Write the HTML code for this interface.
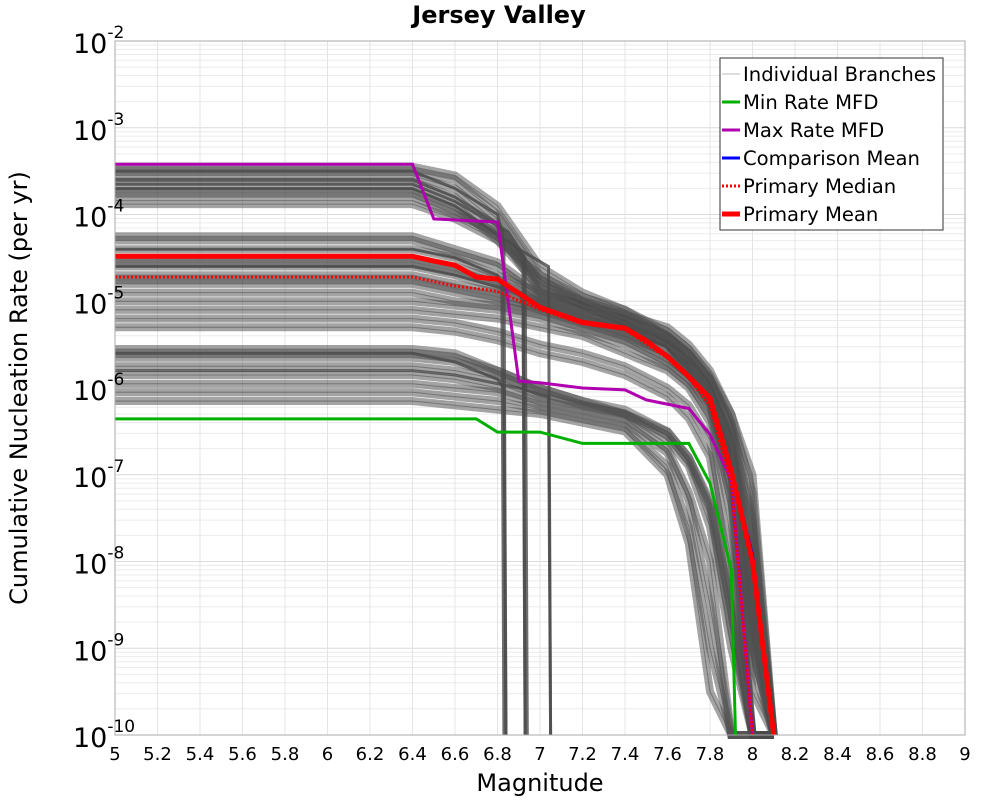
<!DOCTYPE html>
<html><head><meta charset="utf-8"><style>
html,body{margin:0;padding:0;background:#fff;}
svg{display:block;font-family:"DejaVu Sans","Liberation Sans",sans-serif;}
</style></head><body>
<svg id="chart" width="1000" height="800" viewBox="0 0 1000 800" xmlns="http://www.w3.org/2000/svg">
<text x="499" y="23" text-anchor="middle" font-size="24" font-weight="bold">Jersey Valley</text>
<g id="grid"></g>
<g id="branches"></g>
<g id="series"></g>
<rect x="115" y="41" width="850" height="694" fill="none" stroke="#aaa" stroke-width="1"/>
<g id="axes"></g>
<text x="540" y="791" text-anchor="middle" font-size="24">Magnitude</text>
<text transform="translate(27,388) rotate(-90)" text-anchor="middle" font-size="24">Cumulative Nucleation Rate (per yr)</text>
<g id="legend"></g>
</svg>
<script>
const xTicks=[5,5.2,5.4,5.6,5.8,6,6.2,6.4,6.6,6.8,7,7.2,7.4,7.6,7.8,8,8.2,8.4,8.6,8.8,9];
const yExps=[-2,-3,-4,-5,-6,-7,-8,-9,-10];
const grid13=[5,6.4,6.6,6.8,7.0,7.2,7.4,7.6,7.7,7.8,7.9,8.0,8.1];
const branchLogs=[
[-3.45,-3.45,-3.55,-3.9,-4.6,-4.9,-5.1,-5.4,-5.6,-5.9,-6.4,-7.5,-10],
[-3.5,-3.5,-3.6,-4.0,-4.7,-4.95,-5.1,-5.35,-5.55,-5.85,-6.3,-7.2,-10],
[-3.55,-3.55,-3.7,-4.1,-4.8,-5.0,-5.15,-5.4,-5.65,-6.0,-6.6,-8,-10],
[-3.62,-3.62,-3.8,-4.2,-4.75,-5.0,-5.2,-5.45,-5.7,-6.05,-6.7,-8.3,-10],
[-3.7,-3.7,-3.9,-4.3,-4.7,-5.0,-5.2,-5.5,-5.7,-6.1,-6.8,-8.5,-10],
[-3.75,-3.75,-3.95,-4.25,-4.8,-5.05,-5.25,-5.5,-5.75,-6.15,-6.9,-8.7,-10],
[-3.8,-3.8,-4.0,-4.2,-4.9,-5.1,-5.3,-5.5,-5.8,-6.2,-7,-9,-10],
[-3.88,-3.88,-4.05,-4.3,-4.85,-5.05,-5.25,-5.5,-5.75,-6.1,-6.9,-8.8,-10],
[-4.25,-4.25,-4.4,-4.55,-4.9,-5.05,-5.2,-5.4,-5.6,-5.9,-6.45,-7.6,-10],
[-4.3,-4.3,-4.45,-4.6,-4.95,-5.1,-5.2,-5.4,-5.6,-5.9,-6.5,-7.8,-10],
[-4.4,-4.4,-4.5,-4.7,-4.9,-5.05,-5.15,-5.3,-5.5,-5.8,-6.3,-7,-10],
[-4.5,-4.5,-4.6,-4.75,-5.0,-5.15,-5.3,-5.5,-5.7,-6.0,-6.6,-8.2,-10],
[-4.55,-4.55,-4.65,-4.8,-5.0,-5.15,-5.3,-5.5,-5.7,-6.0,-6.65,-8.4,-10],
[-4.6,-4.6,-4.7,-4.85,-5.0,-5.2,-5.3,-5.5,-5.75,-6.05,-6.7,-8.6,-10],
[-4.7,-4.7,-4.8,-4.9,-5.05,-5.2,-5.35,-5.6,-5.8,-6.1,-6.9,-9,-10],
[-4.75,-4.75,-4.85,-4.95,-5.1,-5.25,-5.4,-5.6,-5.8,-6.1,-6.95,-9.2,-10],
[-4.8,-4.8,-4.9,-5.0,-5.1,-5.25,-5.4,-5.65,-5.85,-6.15,-7.0,-9.5,-10],
[-4.9,-4.9,-5.0,-5.05,-5.15,-5.3,-5.45,-5.7,-5.9,-6.2,-7.2,-10,-10],
[-5.0,-5.0,-5.05,-5.1,-5.2,-5.35,-5.5,-5.75,-5.95,-6.3,-7.3,-10,-10],
[-5.1,-5.1,-5.15,-5.2,-5.3,-5.4,-5.6,-5.8,-6.0,-6.4,-7.5,-10,-10],
[-5.2,-5.2,-5.25,-5.35,-5.5,-5.6,-5.75,-6.0,-6.2,-6.6,-8,-10,-10],
[-5.3,-5.3,-5.35,-5.45,-5.6,-5.7,-5.85,-6.1,-6.35,-6.8,-8.4,-10,-10],
[-5.55,-5.55,-5.6,-5.8,-6.0,-6.15,-6.25,-6.5,-6.8,-7.3,-8.5,-10,-10],
[-5.6,-5.6,-5.65,-5.8,-6.0,-6.15,-6.3,-6.5,-6.8,-7.35,-8.6,-10,-10],
[-5.65,-5.65,-5.7,-5.85,-6.05,-6.2,-6.3,-6.55,-6.85,-7.4,-8.8,-10,-10],
[-5.75,-5.75,-5.8,-5.9,-6.1,-6.2,-6.3,-6.6,-6.9,-7.6,-9,-10,-10],
[-5.85,-5.85,-5.9,-6.0,-6.15,-6.25,-6.35,-6.7,-7.2,-8,-10,-10,-10],
[-5.95,-5.95,-6.0,-6.05,-6.2,-6.3,-6.4,-6.75,-7.3,-8.5,-10,-10,-10],
[-6.05,-6.05,-6.1,-6.15,-6.25,-6.35,-6.45,-6.9,-7.6,-9,-10,-10,-10],
[-6.15,-6.15,-6.2,-6.25,-6.3,-6.4,-6.5,-7.0,-7.8,-9.5,-10,-10,-10]
];
const dropMags=[[5,6.4,6.6,6.8,6.83,6.84],[5,6.4,6.6,6.8,6.92,6.93],[5,6.4,6.6,6.9,7.04,7.05],[5,6.4,6.6,6.8,6.83,6.84],[5,6.4,6.6,6.9,6.92,6.93],[5,6.4,6.6,6.9,7.04,7.05],[5,6.4,6.6,6.8,6.82,6.83],[5,6.4,6.6,6.85,6.93,6.94]];
const dropLogs=[[-3.5,-3.5,-3.7,-4.0,-4.3,-10],[-3.6,-3.6,-3.8,-4.1,-4.5,-10],[-3.7,-3.7,-3.9,-4.4,-4.6,-10],[-5.6,-5.6,-5.7,-5.9,-6.0,-10],[-4.6,-4.6,-4.7,-4.9,-5.0,-10],[-5.8,-5.8,-5.85,-6.0,-6.1,-10],[-4.4,-4.4,-4.5,-4.7,-4.8,-10],[-3.65,-3.65,-3.85,-4.2,-4.5,-10]];
const meanMags=[5,6.4,6.5,6.6,6.7,6.8,7.0,7.2,7.4,7.5,7.6,7.7,7.8,7.9,8.0,8.1];
const meanVals=[3.3e-5,3.3e-5,2.9e-5,2.6e-5,1.9e-5,1.8e-5,8.5e-6,5.7e-6,4.9e-6,3.5e-6,2.3e-6,1.35e-6,7.6e-7,1.1e-7,1e-8,1e-10];
const medianMags=[5,6.4,6.6,6.8,7.0,7.2,7.4,7.6,7.7,7.8,7.9,8.0];
const medianVals=[1.9e-5,1.9e-5,1.5e-5,1.3e-5,8e-6,5.5e-6,4.7e-6,2.2e-6,1.3e-6,6.2e-7,8e-8,1e-10];
const compMags=meanMags;
const compVals=[3.3e-5,3.3e-5,2.9e-5,2.6e-5,1.9e-5,1.8e-5,8.5e-6,5.7e-6,4.9e-6,3.5e-6,2.3e-6,1.35e-6,7.6e-7,1.1e-7,1.2e-8,1e-10];
const maxMags=[5,6.4,6.5,6.8,6.9,7.0,7.2,7.4,7.5,7.7,7.8,7.9,8.0];
const maxVals=[3.8e-4,3.8e-4,8.9e-5,8.2e-5,1.2e-6,1.15e-6,1.0e-6,9.5e-7,7.3e-7,5.8e-7,2.9e-7,8.7e-8,1e-10];
const minMags=[5,6.7,6.8,7.0,7.2,7.7,7.8,7.9,7.92];
const minVals=[4.4e-7,4.4e-7,3.1e-7,3.1e-7,2.3e-7,2.3e-7,8e-8,8e-9,1e-10];

const NS="http://www.w3.org/2000/svg";
const X0=115,X1=965,Y0=41,Y1=735;
function xs(m){return X0+(m-5)/4*(X1-X0);}
function ysLog(l){return Y0+(-2-l)/8*(Y1-Y0);}
function ys(v){return ysLog(Math.log10(v));}
function mk(tag,attrs,parent){const e=document.createElementNS(NS,tag);for(const k in attrs)e.setAttribute(k,attrs[k]);parent.appendChild(e);return e;}
const grid=document.getElementById('grid');
for(let e=-3;e>=-10;e--){for(let k=2;k<=9;k++){const y=ysLog(e+Math.log10(k));
 const l=mk('line',{x1:X0,x2:X1,y1:y,y2:y,stroke:'#ebebeb','stroke-width':1},grid);
 
 }}
yExps.forEach(e=>{const y=ysLog(e);const l=mk('line',{x1:X0,x2:X1,y1:y,y2:y,stroke:'#dcdcdc','stroke-width':1},grid);
 
 });
xTicks.forEach(t=>{const x=xs(t);const l=mk('line',{x1:x,x2:x,y1:Y0,y2:Y1,stroke:'#e4e4e4','stroke-width':1},grid);
 
 });
const br=document.getElementById('branches');
function pts(mags,logs){return mags.map((m,i)=>xs(m).toFixed(1)+','+ysLog(Math.max(-10,logs[i])).toFixed(1)).join(' ');}
branchLogs.forEach(b=>{const p=mk('polyline',{points:pts(grid13,b),fill:'none',stroke:'#4a4a4a','stroke-opacity':0.5,'stroke-width':8},br);
 
 });
branchLogs.forEach(b=>{const p=mk('polyline',{points:pts(grid13,b),fill:'none',stroke:'#555','stroke-opacity':0.6,'stroke-width':1},br);
 
 });
dropLogs.forEach((d,i)=>{const p=mk('polyline',{points:pts(dropMags[i],d),fill:'none',stroke:'#4a4a4a','stroke-opacity':0.8,'stroke-width':3},br);
 
 });
const se=document.getElementById('series');
function vpts(mags,vals){return mags.map((m,i)=>xs(m).toFixed(1)+','+ys(vals[i]).toFixed(1)).join(' ');}
let p;
p=mk('polyline',{points:vpts(minMags,minVals),fill:'none',stroke:'#00b000','stroke-width':3},se);


p=mk('polyline',{points:vpts(maxMags,maxVals),fill:'none',stroke:'#b000b0','stroke-width':3},se);


p=mk('polyline',{points:vpts(compMags,compVals),fill:'none',stroke:'#0000ff','stroke-width':3},se);


p=mk('polyline',{points:vpts(medianMags,medianVals),fill:'none',stroke:'#ff0000','stroke-width':3,'stroke-dasharray':'2,2'},se);


p=mk('polyline',{points:vpts(meanMags,meanVals),fill:'none',stroke:'#ff0000','stroke-width':5},se);


const ax=document.getElementById('axes');
xTicks.forEach(t=>{const tx=mk('text',{x:xs(t),y:760,'text-anchor':'middle','font-size':18},ax);tx.textContent=String(t);
 
 });
yExps.forEach(e=>{const y=ysLog(e);const tx=mk('text',{x:73,y:y+12,'font-size':27},ax);
 
 
 const a=document.createElementNS(NS,'tspan');a.textContent='10';tx.appendChild(a);
 const s=document.createElementNS(NS,'tspan');s.setAttribute('font-size','17');s.setAttribute('dy','-15');s.textContent=String(e);tx.appendChild(s);});
const lg=document.getElementById('legend');
const lb=mk('rect',{x:720,y:58,width:223,height:172,fill:'#fff',stroke:'#333','stroke-width':1},lg);


const items=[['Individual Branches','#bbb',1,''],['Min Rate MFD','#00b000',3,''],['Max Rate MFD','#b000b0',3,''],['Comparison Mean','#0000ff',3,''],[' Primary Median','#ff0000',3,'2,2'],['Primary Mean','#ff0000',5,'']];
items.forEach((it,i)=>{const y=74+i*28;
 const l=mk('line',{x1:722,x2:740,y1:y,y2:y,stroke:it[1],'stroke-width':it[2]},lg);
 if(it[3])l.setAttribute('stroke-dasharray',it[3]);
 
 
 const t=mk('text',{x:743,y:y+7,'font-size':19.6},lg);t.textContent=it[0];
 
 });
</script>
</body></html>
